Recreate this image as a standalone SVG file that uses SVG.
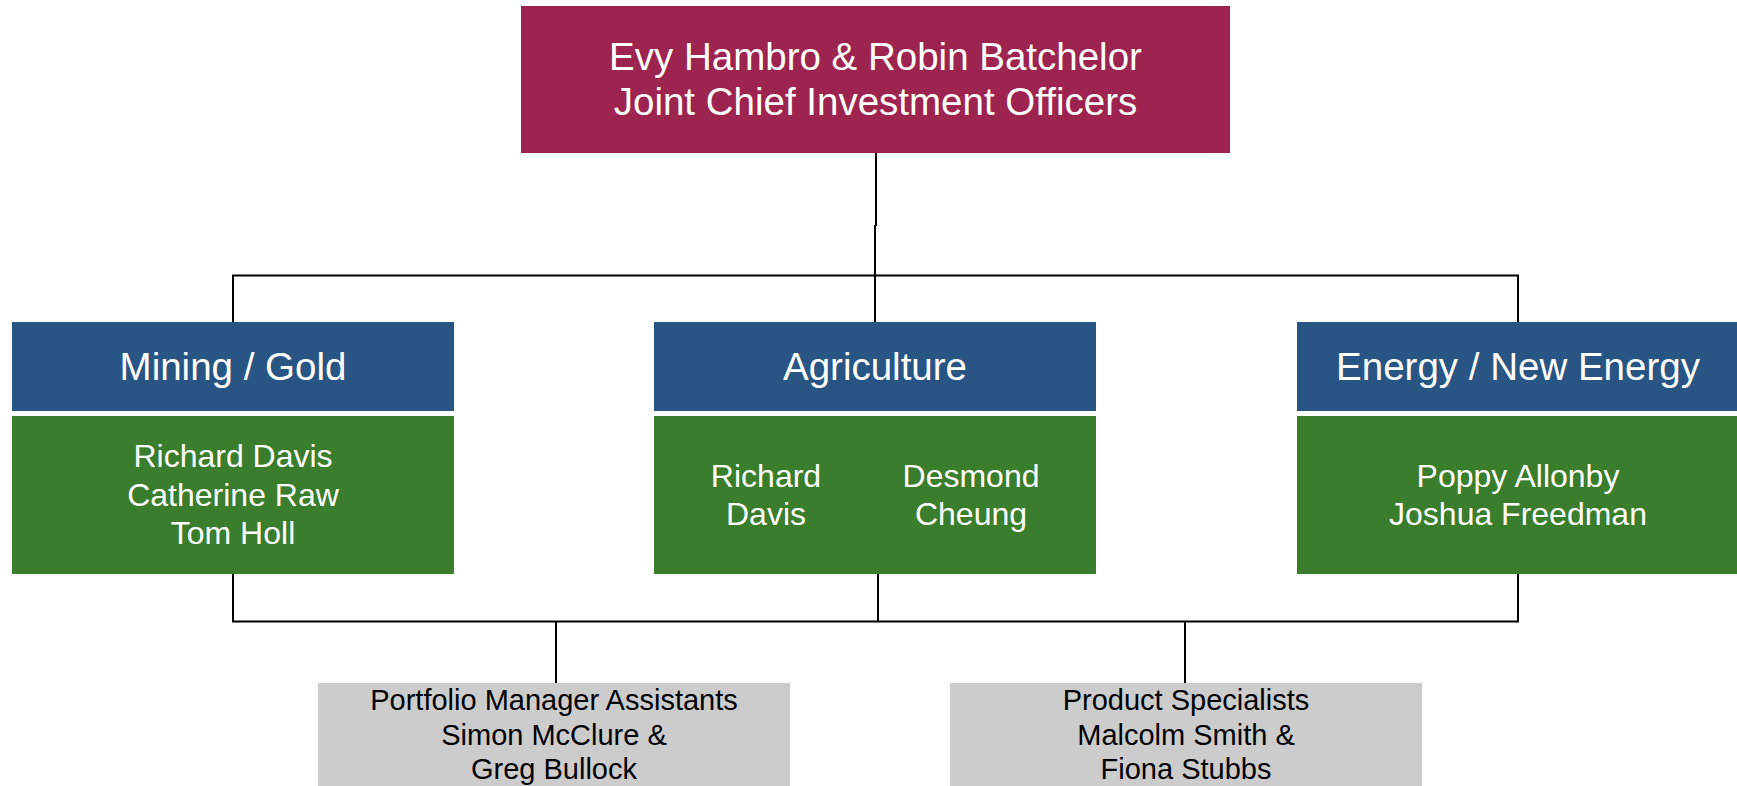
<svg xmlns="http://www.w3.org/2000/svg" width="1737" height="786" viewBox="0 0 1737 786">
<style>
.t{font-family:"Liberation Sans",Arial,sans-serif;fill:#fff;text-anchor:middle}
.h{font-size:38.5px}
.n{font-size:32px}
.g{font-family:"Liberation Sans",Arial,sans-serif;fill:#000;text-anchor:middle;font-size:29px}
.blue{fill:#285583}
.green{fill:#3a7d2d}
.gray{fill:#cccccc}
.ln{stroke:#000;stroke-width:2;fill:none}
</style>
<rect width="1737" height="786" fill="#fff"/>
<g id="connectors">
<path class="ln" d="M876 152V226"/>
<path class="ln" d="M875 225V322"/>
<path class="ln" d="M233 322V275.5H1518V322"/>
<path class="ln" d="M233 573V621.5H1518V573"/>
<path class="ln" d="M878 573V621.5"/>
<path class="ln" d="M556 621.5V683"/>
<path class="ln" d="M1185 621.5V683"/>
</g>
<g id="cio">
<rect x="521" y="6" width="709" height="147" fill="#9e2450"/>
<text class="t h" x="875.5" y="70">Evy Hambro &amp; Robin Batchelor</text>
<text class="t h" x="875.5" y="115">Joint Chief Investment Officers</text>
</g>
<g id="mining">
<rect class="blue" x="12" y="322" width="442" height="89"/>
<text class="t h" x="233" y="380">Mining / Gold</text>
</g>
<g id="mining-team">
<rect class="green" x="12" y="416" width="442" height="158"/>
<text class="t n" x="233" y="467">Richard Davis</text>
<text class="t n" x="233" y="505.5">Catherine Raw</text>
<text class="t n" x="233" y="544">Tom Holl</text>
</g>
<g id="agriculture">
<rect class="blue" x="654" y="322" width="442" height="89"/>
<text class="t h" x="875" y="380">Agriculture</text>
</g>
<g id="agriculture-team">
<rect class="green" x="654" y="416" width="442" height="158"/>
<text class="t n" x="766" y="486.5">Richard</text>
<text class="t n" x="766" y="525">Davis</text>
<text class="t n" x="971" y="486.5">Desmond</text>
<text class="t n" x="971" y="525">Cheung</text>
</g>
<g id="energy">
<rect class="blue" x="1297" y="322" width="442" height="89"/>
<text class="t h" x="1518" y="380">Energy / New Energy</text>
</g>
<g id="energy-team">
<rect class="green" x="1297" y="416" width="442" height="158"/>
<text class="t n" x="1518" y="486.5">Poppy Allonby</text>
<text class="t n" x="1518" y="525">Joshua Freedman</text>
</g>
<g id="pm-assistants">
<rect class="gray" x="318" y="683" width="472" height="110"/>
<text class="g" x="554" y="710">Portfolio Manager Assistants</text>
<text class="g" x="554" y="745">Simon McClure &amp;</text>
<text class="g" x="554" y="779">Greg Bullock</text>
</g>
<g id="product-specialists">
<rect class="gray" x="950" y="683" width="472" height="110"/>
<text class="g" x="1186" y="710">Product Specialists</text>
<text class="g" x="1186" y="745">Malcolm Smith &amp;</text>
<text class="g" x="1186" y="779">Fiona Stubbs</text>
</g>
</svg>
